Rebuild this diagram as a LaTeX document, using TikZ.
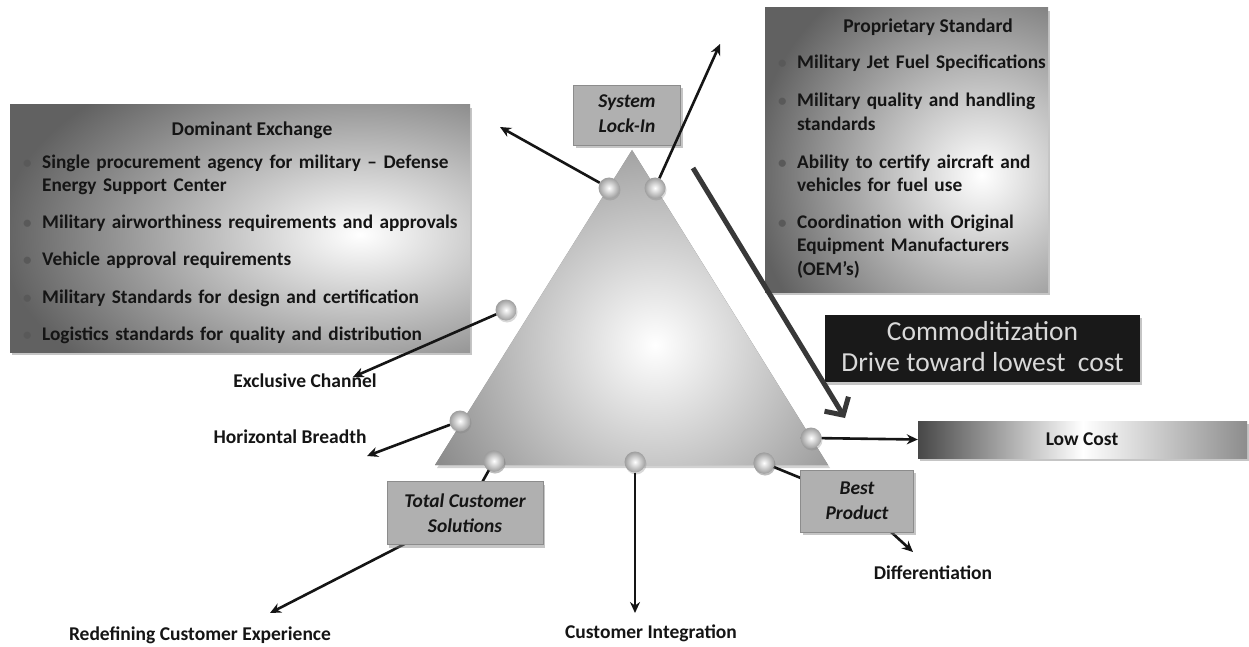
\documentclass[tikz,border=0pt]{standalone}
\usepackage{fontspec}
\setmainfont{Carlito}
\usetikzlibrary{arrows.meta,shadows}
\definecolor{ink}{HTML}{151515}
\tikzset{
  shadowed/.style={drop shadow={opacity=0.45,shadow xshift=2pt,shadow yshift=-3pt}},
  bigbox/.style={inner sep=0, shadowed},
  tagbox/.style={fill=black!31, draw=black!45, line width=0.4pt, inner sep=0, align=center,
    font=\fontsize{19.5}{25}\selectfont\bfseries\itshape, text=ink, shadowed},
  bultext/.style={anchor=base west, inner sep=0, text width=#1, align=left, text=ink,
    font=\fontsize{19.3}{23.5}\selectfont\bfseries},
  bulmark/.style={anchor=base west, inner sep=0, text=black!65, font=\fontsize{17}{20}\selectfont\bfseries},
  boxtitle/.style={inner sep=0, text=ink, font=\fontsize{19.5}{22}\selectfont\bfseries},
  outlabel/.style={inner sep=0, text=ink, font=\fontsize{19.5}{22}\selectfont\bfseries},
  sphere/.style={circle, minimum size=21pt, inner sep=0, inner color=white, outer color=black!38,
    drop shadow={opacity=0.3,shadow xshift=1pt,shadow yshift=-2pt}},
  conn/.style={line width=2.6pt, draw=ink, -{Stealth[length=11pt,width=10pt]}},
  link/.style={line width=2.6pt, draw=ink},
}
\begin{document}
\begin{tikzpicture}[x=1pt,y=-1pt]
\useasboundingbox (0,0) rectangle (1249,647);
\fill[white] (0,0) rectangle (1249,647);

% ---------- Dominant Exchange box ----------
\node[bigbox, minimum width=460pt, minimum height=247pt, fill=black!62,
  path picture={\shade[inner color=white, outer color=black!62] (path picture bounding box.center) ++(-240,-194) rectangle ++(720,400);}]
  (dom) at (240,228.5) {};
\node[boxtitle] (domt) at (252,130) {Dominant Exchange};
\node[bulmark] (dm1) at (23,168) {•};
\node[bultext=440pt] (d1) at (42,168) {Single procurement agency for military – Defense\\Energy Support Center};
\node[bulmark] (dm2) at (23,228) {•};
\node[bultext=440pt] (d2) at (42,228) {Military airworthiness requirements and approvals};
\node[bulmark] (dm3) at (23,265) {•};
\node[bultext=440pt] (d3) at (42,265) {Vehicle approval requirements};
\node[bulmark] (dm4) at (23,303) {•};
\node[bultext=440pt] (d4) at (42,303) {Military Standards for design and certification};
\node[bulmark] (dm5) at (23,340) {•};
\node[bultext=440pt] (d5) at (42,340) {Logistics standards for quality and distribution};

% ---------- Proprietary Standard box ----------
\node[bigbox, minimum width=283pt, minimum height=284pt, fill=black!62,
  path picture={\shade[inner color=white, outer color=black!62] (path picture bounding box.center) ++(-155,-205) rectangle ++(460,460);}]
  (prop) at (906.5,150) {};
\node[boxtitle] (propt) at (928,27) {Proprietary Standard};
\node[bulmark] (pm1) at (778,69) {•};
\node[bultext=260pt] (p1) at (797,69) {Military Jet Fuel Specifications};
\node[bulmark] (pm2) at (778,107) {•};
\node[bultext=260pt] (p2) at (797,107) {Military quality and handling\\standards};
\node[bulmark] (pm3) at (778,168) {•};
\node[bultext=260pt] (p3) at (797,168) {Ability to certify aircraft and\\vehicles for fuel use};
\node[bulmark] (pm4) at (778,228) {•};
\node[bultext=260pt] (p4) at (797,228) {Coordination with Original\\Equipment Manufacturers\\(OEM’s)};

% ---------- Commoditization box ----------
\node[bigbox, minimum width=315pt, minimum height=67pt, fill=black!90] (comm) at (982.5,348.5) {};
\node[inner sep=0, align=center, text=black!15, font=\fontsize{27.5}{31}\selectfont] (commt) at (982.5,347)
  {Commoditization\\Drive toward lowest~ cost};

% ---------- Low Cost bar ----------
\node[bigbox, minimum width=329pt, minimum height=37pt, left color=black!72, right color=black!45, middle color=white]
  (low) at (1082.5,439.5) {};
\node[outlabel] (lowt) at (1082,439) {Low Cost};

% ---------- Triangle ----------
\coordinate (apex) at (632,150);
\coordinate (bl) at (435,465);
\coordinate (br) at (828,465);
\fill[black!48, drop shadow={opacity=0.35,shadow xshift=2pt,shadow yshift=-3pt}] (apex) -- (br) -- (bl) -- cycle;
\begin{scope}
  \clip (apex) -- (br) -- (bl) -- cycle;
  \shade[inner color=white, outer color=black!48] (395,85) rectangle (915,605);
\end{scope}

% ---------- big commoditization arrow ----------
\coordinate (bigs) at (693,168);
\coordinate (bige) at (845,418);
\draw[line width=5pt, draw=black!78, -{Straight Barb[length=13pt,width=28pt,line width=5pt]}] (bigs) -- (bige);

% ---------- connectors behind tag boxes ----------
\node[sphere] (b5) at (494,461) {};
\node[sphere] (b7) at (764,463) {};
\coordinate (tcsc) at (465,513);
\coordinate (bestc) at (857,501);
\coordinate (redef) at (270,613);
\coordinate (diff) at (913,552);
\draw[link] (b5.center) -- (tcsc);
\draw[conn] (tcsc) -- (redef);
\draw[link] (b7.center) -- (bestc);
\draw[conn] (bestc) -- (diff);

% ---------- tag boxes ----------
\node[tagbox, minimum width=107pt, minimum height=60pt, text depth=3pt] (lock) at (627,115) {System\\Lock-In};
\node[tagbox, minimum width=156pt, minimum height=63pt] (tcs) at (465,513) {Total Customer\\Solutions};
\node[tagbox, minimum width=113pt, minimum height=62pt] (best) at (857,501) {Best\\Product};

% ---------- spheres ----------
\node[sphere] (b1) at (609,188) {};
\node[sphere] (b2) at (655,188) {};
\node[sphere] (b3) at (506,310) {};
\node[sphere] (b4) at (460,421) {};
\node[sphere] (b6) at (635,462) {};
\node[sphere] (b8) at (811,438) {};
\node[sphere] (b5b) at (494,461) {};
\node[sphere] (b7b) at (764,463) {};

% ---------- arrow targets ----------
\coordinate (t1) at (500,127);
\coordinate (t2) at (720,44);
\coordinate (t3) at (353,377);
\coordinate (t4) at (367,456);
\coordinate (t6) at (635,613);

\draw[conn] (b1) -- (t1);
\draw[conn] (b2) -- (t2);
\draw[conn] (b3) -- (t3);
\draw[conn] (b4) -- (t4);
\draw[conn] (b6) -- (t6);
\draw[conn] (b8) -- (low.west);

% ---------- outer labels ----------
\node[outlabel] (lex) at (305,381) {Exclusive Channel};
\node[outlabel] (lhb) at (290,437) {Horizontal Breadth};
\node[outlabel] (lrc) at (200,635) {Redefining Customer Experience};
\node[outlabel] (lci) at (651,633) {Customer Integration};
\node[outlabel] (ldf) at (933,573) {Differentiation};
\end{tikzpicture}
\end{document}
